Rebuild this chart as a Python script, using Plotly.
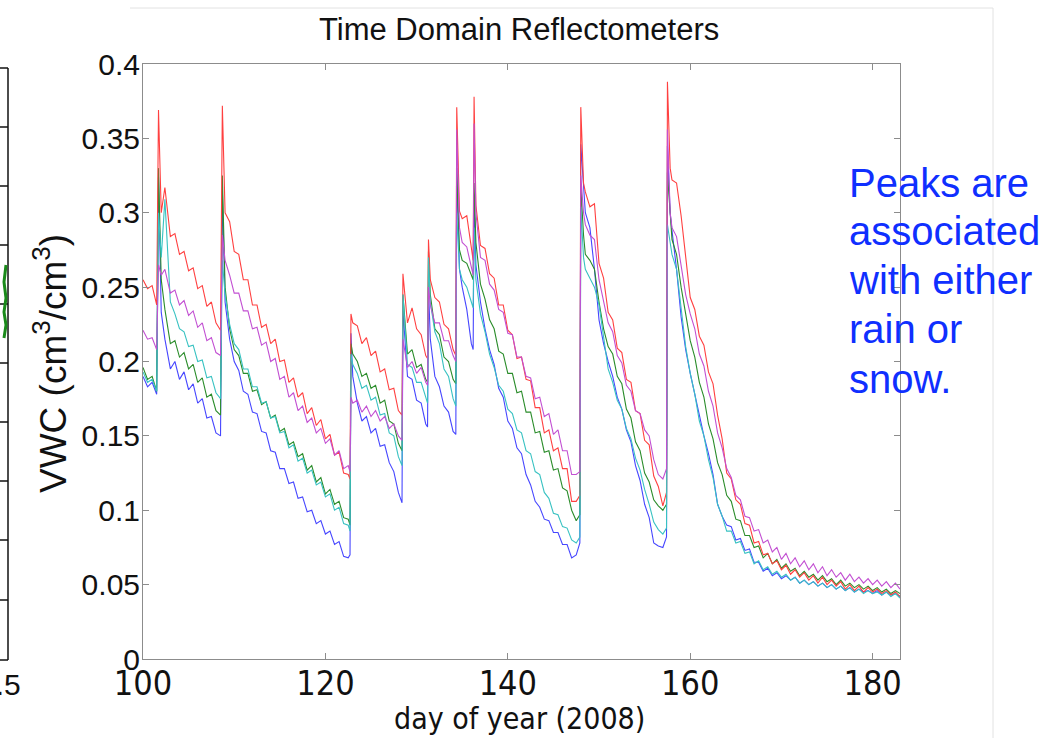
import sys
import numpy as np
import plotly.graph_objects as go

# ---------------- data ----------------
def halfdays(a, b):
    return [round(v, 2) for v in np.arange(a, b + 0.001, 0.5)]

# time grid, split into segments around the wetting events
day_segments = [
    [100.0, 100.5, 101.0, 101.5],
    [101.7, 102.0, 102.4],
    halfdays(103.0, 108.5),
    [108.7],
    halfdays(109.0, 122.5) + [122.7],
    [122.8],
    halfdays(123.0, 128.0) + [128.4],
    [128.5],
    halfdays(129.0, 131.0) + [131.2],
    [131.3],
    halfdays(131.5, 134.0) + [134.3],
    [134.4],
    [134.7] + halfdays(135.0, 136.0) + [136.2],
    [136.3],
    halfdays(136.5, 147.5) + [147.9],
    [148.0],
    [148.3] + halfdays(148.5, 157.0) + [157.4],
    [157.5],
    [157.8] + halfdays(158.0, 183.0),
]

vwc_blue = [
    [0.190, 0.183, 0.186, 0.178],
    [0.324, 0.233, 0.215],
    [0.195, 0.200, 0.188, 0.193, 0.181, 0.185, 0.172, 0.175, 0.162, 0.163, 0.152, 0.150],
    [0.315],
    [0.240, 0.215, 0.200, 0.194, 0.180, 0.178, 0.166, 0.165, 0.153, 0.152, 0.140, 0.139, 0.128, 0.128,
     0.118, 0.119, 0.108, 0.109, 0.099, 0.100, 0.091, 0.093, 0.084, 0.086, 0.077, 0.079, 0.069, 0.068, 0.070],
    [0.219],
    [0.190, 0.172, 0.160, 0.163, 0.152, 0.155, 0.143, 0.144, 0.132, 0.126, 0.112, 0.105],
    [0.235],
    [0.190, 0.188, 0.174, 0.172, 0.158, 0.156],
    [0.250],
    [0.215, 0.190, 0.183, 0.170, 0.166, 0.153, 0.151],
    [0.330],
    [0.262, 0.250, 0.235, 0.212, 0.208],
    [0.310],
    [0.265, 0.240, 0.222, 0.208, 0.198, 0.182, 0.176, 0.160, 0.155, 0.142, 0.138, 0.124, 0.117, 0.106,
     0.102, 0.094, 0.093, 0.085, 0.085, 0.077, 0.077, 0.068, 0.070, 0.078],
    [0.346],
    [0.315, 0.300, 0.290, 0.262, 0.228, 0.212, 0.200, 0.190, 0.176, 0.168, 0.154, 0.146, 0.130, 0.120,
     0.104, 0.095, 0.078, 0.076, 0.075, 0.082],
    [0.345],
    [0.300, 0.288, 0.262, 0.230, 0.208, 0.192, 0.178, 0.163, 0.150, 0.138, 0.124, 0.104, 0.096, 0.090,
     0.089, 0.080, 0.081, 0.073, 0.074, 0.065, 0.065, 0.059, 0.061, 0.056, 0.058, 0.054, 0.056, 0.053,
     0.055, 0.051, 0.053, 0.050, 0.052, 0.049, 0.051, 0.048, 0.050, 0.047, 0.049, 0.046, 0.048, 0.045,
     0.047, 0.045, 0.046, 0.044, 0.046, 0.043, 0.045, 0.043, 0.044, 0.042],
]

vwc_green = [
    [0.196, 0.188, 0.190, 0.180],
    [0.330, 0.255, 0.235],
    [0.212, 0.214, 0.203, 0.206, 0.195, 0.198, 0.186, 0.189, 0.176, 0.178, 0.167, 0.164],
    [0.325],
    [0.250, 0.222, 0.208, 0.204, 0.192, 0.192, 0.180, 0.181, 0.171, 0.173, 0.162, 0.164, 0.153, 0.155,
     0.144, 0.146, 0.136, 0.138, 0.127, 0.130, 0.119, 0.122, 0.111, 0.114, 0.104, 0.106, 0.095, 0.094, 0.090],
    [0.212],
    [0.205, 0.200, 0.190, 0.192, 0.182, 0.184, 0.172, 0.174, 0.160, 0.158, 0.145, 0.140],
    [0.245],
    [0.205, 0.208, 0.196, 0.198, 0.188, 0.186],
    [0.274],
    [0.245, 0.222, 0.218, 0.203, 0.200, 0.188, 0.185],
    [0.330],
    [0.275, 0.268, 0.266, 0.258, 0.255],
    [0.320],
    [0.280, 0.252, 0.242, 0.228, 0.222, 0.207, 0.205, 0.192, 0.192, 0.179, 0.180, 0.166, 0.166, 0.152,
     0.153, 0.139, 0.140, 0.127, 0.128, 0.115, 0.113, 0.100, 0.093, 0.097],
    [0.318],
    [0.285, 0.272, 0.268, 0.262, 0.240, 0.222, 0.210, 0.205, 0.190, 0.185, 0.168, 0.162, 0.146, 0.140,
     0.125, 0.119, 0.107, 0.103, 0.100, 0.104],
    [0.327],
    [0.295, 0.282, 0.272, 0.250, 0.232, 0.214, 0.203, 0.186, 0.176, 0.158, 0.148, 0.132, 0.124, 0.110,
     0.106, 0.094, 0.093, 0.083, 0.083, 0.075, 0.076, 0.068, 0.071, 0.064, 0.067, 0.061, 0.064, 0.059,
     0.061, 0.056, 0.059, 0.055, 0.057, 0.053, 0.056, 0.052, 0.054, 0.050, 0.053, 0.049, 0.051, 0.048,
     0.050, 0.047, 0.049, 0.046, 0.048, 0.045, 0.047, 0.044, 0.046, 0.044],
]

vwc_red = [
    [0.255, 0.249, 0.251, 0.238],
    [0.369, 0.300, 0.317],
    [0.284, 0.286, 0.272, 0.274, 0.261, 0.263, 0.249, 0.251, 0.237, 0.240, 0.226, 0.221],
    [0.372],
    [0.300, 0.294, 0.274, 0.272, 0.255, 0.255, 0.238, 0.238, 0.223, 0.225, 0.212, 0.215, 0.200, 0.201,
     0.186, 0.189, 0.176, 0.179, 0.165, 0.169, 0.157, 0.161, 0.148, 0.151, 0.137, 0.139, 0.125, 0.124, 0.121],
    [0.232],
    [0.226, 0.224, 0.212, 0.216, 0.204, 0.207, 0.193, 0.195, 0.181, 0.182, 0.167, 0.164],
    [0.259],
    [0.226, 0.236, 0.222, 0.218, 0.204, 0.202],
    [0.282],
    [0.255, 0.243, 0.240, 0.225, 0.222, 0.208, 0.204],
    [0.371],
    [0.301, 0.296, 0.298, 0.275, 0.268],
    [0.378],
    [0.305, 0.278, 0.276, 0.259, 0.256, 0.238, 0.238, 0.221, 0.218, 0.202, 0.203, 0.188, 0.187, 0.169,
     0.169, 0.152, 0.154, 0.140, 0.142, 0.128, 0.128, 0.106, 0.106, 0.110],
    [0.371],
    [0.320, 0.314, 0.304, 0.306, 0.266, 0.256, 0.233, 0.228, 0.209, 0.206, 0.188, 0.186, 0.167, 0.165,
     0.147, 0.144, 0.123, 0.116, 0.103, 0.112],
    [0.388],
    [0.330, 0.322, 0.320, 0.298, 0.272, 0.243, 0.235, 0.217, 0.211, 0.193, 0.185, 0.164, 0.148, 0.125,
     0.121, 0.107, 0.104, 0.091, 0.090, 0.078, 0.079, 0.070, 0.071, 0.064, 0.066, 0.060, 0.063, 0.057,
     0.060, 0.055, 0.058, 0.053, 0.056, 0.051, 0.055, 0.050, 0.053, 0.049, 0.052, 0.047, 0.050, 0.046,
     0.049, 0.045, 0.048, 0.045, 0.047, 0.044, 0.046, 0.043, 0.045, 0.042],
]

vwc_cyan = [
    [0.193, 0.186, 0.188, 0.180],
    [0.300, 0.270, 0.309],
    [0.240, 0.232, 0.222, 0.220, 0.210, 0.211, 0.200, 0.201, 0.189, 0.190, 0.179, 0.175],
    [0.268],
    [0.245, 0.225, 0.212, 0.208, 0.195, 0.195, 0.183, 0.183, 0.172, 0.173, 0.162, 0.163, 0.152, 0.153,
     0.142, 0.144, 0.133, 0.135, 0.125, 0.127, 0.117, 0.119, 0.109, 0.111, 0.100, 0.102, 0.091, 0.090, 0.086],
    [0.205],
    [0.198, 0.192, 0.182, 0.184, 0.174, 0.176, 0.164, 0.165, 0.152, 0.150, 0.136, 0.130],
    [0.245],
    [0.198, 0.196, 0.186, 0.186, 0.175, 0.172],
    [0.270],
    [0.240, 0.220, 0.212, 0.195, 0.190, 0.175, 0.170],
    [0.300],
    [0.262, 0.255, 0.250, 0.240, 0.236],
    [0.290],
    [0.255, 0.232, 0.220, 0.205, 0.196, 0.184, 0.180, 0.168, 0.165, 0.154, 0.152, 0.140, 0.138, 0.126,
     0.124, 0.112, 0.108, 0.098, 0.097, 0.089, 0.088, 0.080, 0.078, 0.082],
    [0.304],
    [0.270, 0.262, 0.256, 0.250, 0.238, 0.215, 0.195, 0.186, 0.174, 0.168, 0.155, 0.148, 0.135, 0.127,
     0.114, 0.104, 0.092, 0.087, 0.084, 0.088],
    [0.292],
    [0.280, 0.272, 0.262, 0.235, 0.210, 0.192, 0.178, 0.160, 0.150, 0.134, 0.122, 0.104, 0.096, 0.086,
     0.086, 0.078, 0.079, 0.071, 0.072, 0.064, 0.066, 0.060, 0.062, 0.057, 0.059, 0.055, 0.057, 0.053,
     0.055, 0.051, 0.053, 0.050, 0.052, 0.049, 0.051, 0.048, 0.050, 0.047, 0.049, 0.046, 0.048, 0.045,
     0.047, 0.044, 0.046, 0.044, 0.045, 0.043, 0.045, 0.042, 0.044, 0.041],
]

vwc_magenta = [
    [0.221, 0.215, 0.216, 0.208],
    [0.265, 0.258, 0.262],
    [0.246, 0.248, 0.238, 0.241, 0.231, 0.234, 0.223, 0.226, 0.214, 0.216, 0.206, 0.204],
    [0.285],
    [0.268, 0.258, 0.246, 0.246, 0.234, 0.234, 0.222, 0.223, 0.211, 0.213, 0.200, 0.202, 0.188, 0.190,
     0.176, 0.179, 0.167, 0.170, 0.159, 0.162, 0.152, 0.155, 0.145, 0.148, 0.137, 0.140, 0.128, 0.130, 0.126],
    [0.176],
    [0.172, 0.174, 0.166, 0.170, 0.163, 0.167, 0.160, 0.163, 0.155, 0.158, 0.150, 0.147],
    [0.215],
    [0.196, 0.200, 0.192, 0.196, 0.186, 0.184],
    [0.250],
    [0.238, 0.226, 0.226, 0.214, 0.214, 0.204, 0.200],
    [0.356],
    [0.290, 0.280, 0.277, 0.262, 0.258],
    [0.360],
    [0.300, 0.270, 0.268, 0.252, 0.248, 0.235, 0.233, 0.219, 0.218, 0.203, 0.203, 0.190, 0.189, 0.175,
     0.176, 0.163, 0.165, 0.151, 0.154, 0.140, 0.140, 0.124, 0.124, 0.126],
    [0.325],
    [0.300, 0.292, 0.285, 0.282, 0.255, 0.240, 0.226, 0.220, 0.204, 0.199, 0.184, 0.180, 0.167, 0.165,
     0.154, 0.150, 0.134, 0.124, 0.121, 0.128],
    [0.356],
    [0.300, 0.290, 0.284, 0.265, 0.245, 0.232, 0.222, 0.205, 0.197, 0.180, 0.170, 0.152, 0.142, 0.128,
     0.122, 0.110, 0.107, 0.096, 0.095, 0.086, 0.087, 0.078, 0.080, 0.072, 0.075, 0.067, 0.071, 0.064,
     0.068, 0.062, 0.066, 0.060, 0.064, 0.058, 0.062, 0.056, 0.060, 0.055, 0.058, 0.053, 0.057, 0.052,
     0.055, 0.051, 0.054, 0.050, 0.053, 0.049, 0.052, 0.048, 0.051, 0.047],
]

y_ticks = [0, 0.05, 0.1, 0.15, 0.2, 0.25, 0.3, 0.35, 0.4]
y_ticklabels = ["0", "0.05", "0.1", "0.15", "0.2", "0.25", "0.3", "0.35", "0.4"]
x_ticks = [100, 120, 140, 160, 180]

title_text = "Time Domain Reflectometers"
x_title = "day of year (2008)"
y_title = "VWC (cm<sup>3</sup>/cm<sup>3</sup>)"
note_lines = ["Peaks are", "associated", "with either", "rain or", "snow."]


def flatten(name, segs):
    xs, ys = [], []
    for i, (ds, vs) in enumerate(zip(day_segments, segs)):
        if len(ds) != len(vs):
            print(f"{name}: segment {i} has {len(vs)} values, grid has {len(ds)}", file=sys.stderr)
        n = min(len(ds), len(vs))
        xs += ds[:n]
        ys += vs[:n]
    return xs, ys


series = [
    ("blue", vwc_blue, "#4646ff"),
    ("green", vwc_green, "#2a8c2a"),
    ("red", vwc_red, "#ff4040"),
    ("cyan", vwc_cyan, "#38c2c2"),
    ("magenta", vwc_magenta, "#c24fd2"),
]

fig = go.Figure()
for name, segs, col in series:
    xs, ys = flatten(name, segs)
    fig.add_trace(go.Scatter(x=xs, y=ys, mode="lines", name=name,
                             line=dict(color=col, width=1.1), hoverinfo="skip"))

# ---------------- layout ----------------
W, H = 1046, 738
L, R, T, B = 143, 146, 64, 79
pw, ph = W - L - R, H - T - B


def px(x):
    return (x - L) / pw


def py(y):
    return (H - B - y) / ph


axis_col = "#8c8c8c"
sans = "Liberation Sans, Arial, sans-serif"
narrow = "DejaVu Sans Condensed, Liberation Sans, Arial, sans-serif"

fig.update_layout(
    width=W, height=H,
    margin=dict(l=L, r=R, t=T, b=B, pad=0),
    plot_bgcolor="white", paper_bgcolor="white",
    showlegend=False,
    xaxis=dict(range=[100, 183], tickvals=x_ticks, ticks="inside", ticklen=6,
               tickcolor=axis_col, showline=True, linecolor=axis_col, linewidth=1,
               mirror="ticks", showgrid=False, zeroline=False, ticklabelstandoff=-6,
               tickfont=dict(family=narrow, size=34, color="#111111")),
    yaxis=dict(range=[0, 0.4], tickvals=y_ticks, ticktext=y_ticklabels, ticks="inside",
               ticklen=6, tickcolor=axis_col, showline=True, linecolor=axis_col, linewidth=1,
               mirror="ticks", showgrid=False, zeroline=False, ticklabelstandoff=-4,
               tickfont=dict(family=sans, size=30, color="#111111")),
)

ann = []
ann.append(dict(text=title_text, x=px(519), y=py(30), xref="paper", yref="paper",
                showarrow=False, xanchor="center", yanchor="middle",
                font=dict(family=sans, size=31, color="#111111")))
ann.append(dict(text=x_title, x=px(519), y=py(718), xref="paper", yref="paper",
                showarrow=False, xanchor="center", yanchor="middle",
                font=dict(family=narrow, size=30, color="#111111")))
ann.append(dict(text=y_title, x=px(50), y=py(364), xref="paper", yref="paper",
                showarrow=False, xanchor="center", yanchor="middle", textangle=-90,
                font=dict(family=sans, size=37, color="#111111")))
for line_text, yc in zip(note_lines, [183, 231, 280, 329, 379]):
    ann.append(dict(text=line_text, x=px(847), y=py(yc), xref="paper", yref="paper",
                    showarrow=False, xanchor="left", yanchor="middle", align="left",
                    font=dict(family=sans, size=40, color="#0f2fff")))
ann.append(dict(text="0.5", x=px(23), y=py(684), xref="paper", yref="paper",
                showarrow=False, xanchor="right", yanchor="middle",
                font=dict(family=sans, size=30, color="#111111")))
fig.update_layout(annotations=ann)

shapes = []
# fragment of the neighbouring slide chart at the left edge
shapes.append(dict(type="line", xref="paper", yref="paper", x0=px(8), x1=px(8), y0=py(68), y1=py(660),
                   line=dict(color="#111111", width=1.5)))
for yy in [68, 127, 186, 245, 304, 363, 422, 481, 540, 600, 660]:
    shapes.append(dict(type="line", xref="paper", yref="paper", x0=px(-2), x1=px(8), y0=py(yy), y1=py(yy),
                       line=dict(color="#111111", width=1.5)))
gpath = "M {} {} L {} {} L {} {} L {} {} L {} {} L {} {}".format(
    px(6), py(265), px(4), py(282), px(6), py(298), px(4), py(312), px(6), py(325), px(4), py(338))
shapes.append(dict(type="path", xref="paper", yref="paper", path=gpath,
                   line=dict(color="#1a8a1a", width=3)))
# light slide frame
shapes.append(dict(type="line", xref="paper", yref="paper", x0=px(993), x1=px(993), y0=py(8), y1=py(740),
                   line=dict(color="#e2e2e2", width=1)))
shapes.append(dict(type="line", xref="paper", yref="paper", x0=px(130), x1=px(993), y0=py(8), y1=py(8),
                   line=dict(color="#e2e2e2", width=1)))
fig.update_layout(shapes=shapes)

fig.write_html("out.html")
